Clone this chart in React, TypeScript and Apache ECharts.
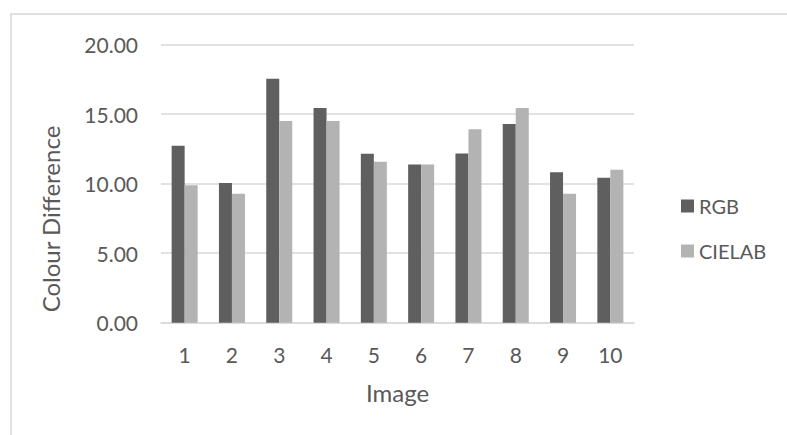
import React, { useEffect, useRef } from "react";
import * as echarts from "echarts";

const categories = ["1", "2", "3", "4", "5", "6", "7", "8", "9", "10"];
const rgbValues = [12.73, 10.05, 17.55, 15.44, 12.16, 11.39, 12.18, 14.29, 10.82, 10.43];
const cielabValues = [9.88, 9.28, 14.51, 14.51, 11.58, 11.39, 13.91, 15.44, 9.28, 11.01];
const seriesNames = ["RGB", "CIELAB"];
const yTicks = { min: 0, max: 20, interval: 5 };
const xTitle = "Image";
const yTitle = "Colour Difference";

const FONT = "Lato, 'Open Sans', sans-serif";
const TEXT = "#595959";

export default function App() {
  const ref = useRef<HTMLDivElement>(null);
  useEffect(() => {
    if (!ref.current) return;
    const chart = echarts.init(ref.current, undefined, { renderer: "svg" });
    chart.setOption({
      animation: false,
      backgroundColor: "#ffffff",
      textStyle: { fontFamily: FONT, color: TEXT },
      graphic: [
        {
          type: "rect",
          shape: { x: 11, y: 14, width: 800, height: 450 },
          style: { fill: "none", stroke: "#d6d6d6", lineWidth: 1.5 },
          silent: true,
        },
        {
          type: "text",
          x: 50,
          y: 219,
          rotation: Math.PI / 2,
          style: {
            text: yTitle,
            fontFamily: FONT,
            fontSize: 24,
            fill: TEXT,
            align: "center",
            verticalAlign: "middle",
          },
          silent: true,
        },
      ],
      grid: { left: 161, right: 153, top: 44.7, bottom: 112.3, containLabel: false },
      legend: {
        orient: "vertical",
        left: 676,
        top: 191,
        itemWidth: 13,
        itemHeight: 13,
        itemGap: 25,
        icon: "rect",
        textStyle: { fontFamily: FONT, fontSize: 20, color: TEXT, lineHeight: 20 },
        data: seriesNames,
      },
      xAxis: {
        type: "category",
        data: categories,
        name: xTitle,
        nameLocation: "middle",
        nameGap: 58,
        nameTextStyle: { fontFamily: FONT, fontSize: 24, color: TEXT },
        axisLine: { show: true, lineStyle: { color: "#d9d9d9", width: 1.5 } },
        axisTick: { show: false },
        axisLabel: { fontFamily: FONT, fontSize: 21, color: TEXT, margin: 21 },
      },
      yAxis: {
        type: "value",
        min: yTicks.min,
        max: yTicks.max,
        interval: yTicks.interval,
        axisLine: { show: false },
        axisTick: { show: false },
        splitLine: { lineStyle: { color: "#d9d9d9", width: 1.5 } },
        axisLabel: {
          fontFamily: FONT,
          fontSize: 21,
          color: TEXT,
          margin: 23,
          formatter: (v: number) => v.toFixed(2),
        },
      },
      series: [
        {
          name: seriesNames[0],
          type: "bar",
          data: rgbValues,
          itemStyle: { color: "#5f5f5f" },
          barGap: "0%",
          barCategoryGap: "45%",
        },
        {
          name: seriesNames[1],
          type: "bar",
          data: cielabValues,
          itemStyle: { color: "#b3b3b3" },
          barGap: "0%",
          barCategoryGap: "45%",
        },
      ],
    });
    return () => chart.dispose();
  }, []);
  return (
    <div
      ref={ref}
      style={{ position: "fixed", left: 0, top: 0, width: 787, height: 435 }}
    />
  );
}
